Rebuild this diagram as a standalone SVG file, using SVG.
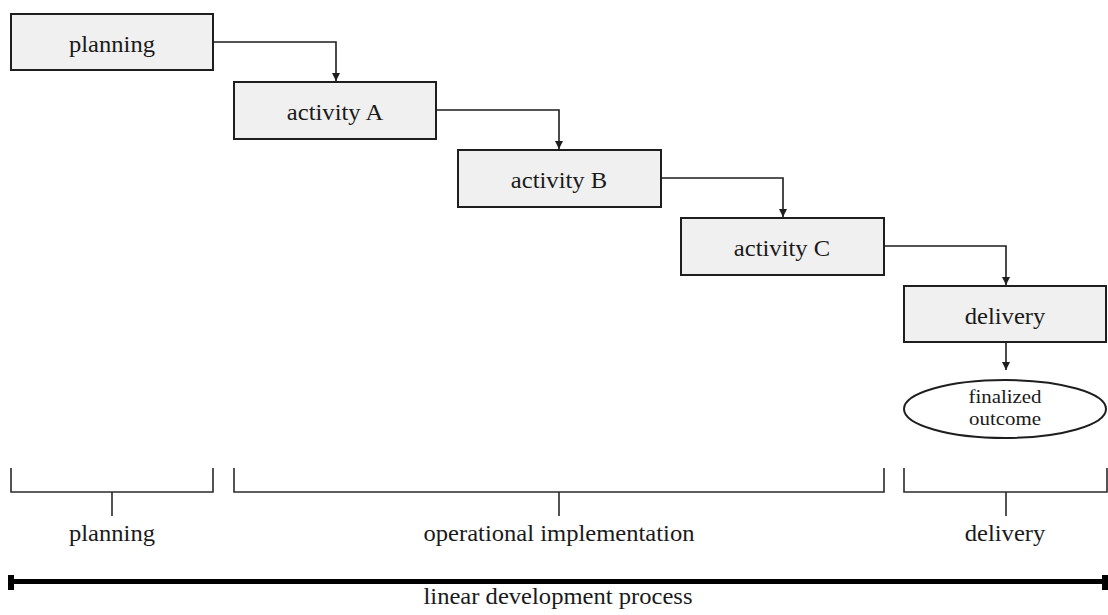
<svg xmlns="http://www.w3.org/2000/svg" width="1108" height="615" viewBox="0 0 1108 615">
  <style>
    .box { fill: #f0f0f0; stroke: #1e1e1e; stroke-width: 2; }
    .oval { fill: #ffffff; stroke: #1e1e1e; stroke-width: 2; }
    .lbl { font-family: "Liberation Serif", "Times New Roman", serif; font-size: 23px; fill: #1a1a1a; text-anchor: middle; }
    .sm { font-family: "Liberation Serif", "Times New Roman", serif; font-size: 19px; fill: #1a1a1a; text-anchor: middle; }
    .flow { fill: none; stroke: #1e1e1e; stroke-width: 1.6; marker-end: url(#arrow); }
    .brace { fill: none; stroke: #2a2a2a; stroke-width: 1.6; }
  </style>
  <defs>
    <marker id="arrow" viewBox="0 0 10 10" refX="10" refY="5" markerWidth="5" markerHeight="5" markerUnits="strokeWidth" orient="auto">
      <path d="M0,0 L10,5 L0,10 z" fill="#1e1e1e"/>
    </marker>
  </defs>

  <rect width="1108" height="615" fill="#ffffff"/>

  <!-- process steps -->
  <g id="node-planning">
    <rect class="box" x="11" y="14" width="202" height="56"/>
    <text class="lbl" transform="translate(112,51.5) scale(1.07,1)">planning</text>
  </g>
  <g id="node-activity-a">
    <rect class="box" x="234" y="82" width="202" height="57"/>
    <text class="lbl" transform="translate(335,120) scale(1.07,1)">activity A</text>
  </g>
  <g id="node-activity-b">
    <rect class="box" x="458" y="150" width="203" height="57"/>
    <text class="lbl" transform="translate(559,188) scale(1.07,1)">activity B</text>
  </g>
  <g id="node-activity-c">
    <rect class="box" x="681" y="218" width="203" height="57"/>
    <text class="lbl" transform="translate(782,256) scale(1.07,1)">activity C</text>
  </g>
  <g id="node-delivery">
    <rect class="box" x="904" y="286" width="202" height="56"/>
    <text class="lbl" transform="translate(1005,323.5) scale(1.07,1)">delivery</text>
  </g>
  <g id="node-outcome">
    <ellipse class="oval" cx="1005" cy="409" rx="101" ry="29"/>
    <text class="sm" transform="translate(1005,403) scale(1.1,1)">finalized</text>
    <text class="sm" transform="translate(1005,425) scale(1.1,1)">outcome</text>
  </g>

  <!-- step connectors -->
  <g id="connectors">
    <path class="flow" d="M213,42 H336 V81"/>
    <path class="flow" d="M436,110 H559 V149"/>
    <path class="flow" d="M661,178 H783 V217"/>
    <path class="flow" d="M884,246 H1006 V285"/>
    <path class="flow" d="M1006,342 V370"/>
  </g>

  <!-- phase brackets -->
  <g id="phase-planning">
    <path class="brace" d="M11,468 V492 H213 V468 M112,492 V516"/>
    <text class="lbl" transform="translate(112,541) scale(1.07,1)">planning</text>
  </g>
  <g id="phase-implementation">
    <path class="brace" d="M234,468 V492 H884 V468 M559,492 V516"/>
    <text class="lbl" transform="translate(559,541) scale(1.07,1)">operational implementation</text>
  </g>
  <g id="phase-delivery">
    <path class="brace" d="M904,468 V492 H1107 V468 M1006,492 V516"/>
    <text class="lbl" transform="translate(1005,541) scale(1.07,1)">delivery</text>
  </g>

  <!-- overall timeline -->
  <g id="timeline">
    <line x1="11" y1="581.5" x2="1105" y2="581.5" stroke="#000000" stroke-width="5"/>
    <rect x="8" y="575" width="6" height="15" fill="#000000"/>
    <rect x="1102" y="575" width="6" height="15" fill="#000000"/>
    <text class="lbl" transform="translate(558,604) scale(1.07,1)">linear development process</text>
  </g>
</svg>
